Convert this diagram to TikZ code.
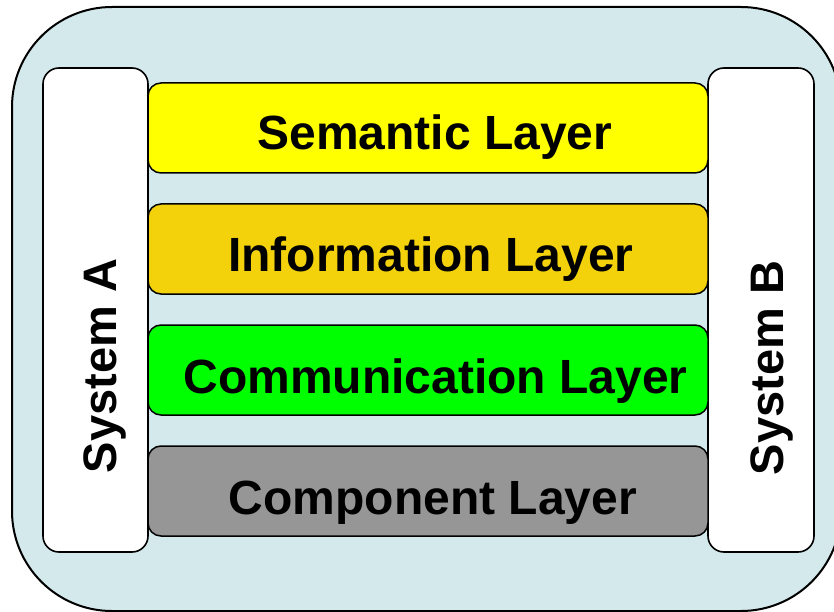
\documentclass[tikz,border=0pt]{standalone}
\usepackage{fontspec}
\setmainfont{Liberation Sans}
\definecolor{bgc}{HTML}{D3E9EB}
\definecolor{semc}{HTML}{FFFF00}
\definecolor{infc}{HTML}{F3D20C}
\definecolor{comc}{HTML}{00FF00}
\definecolor{cmpc}{HTML}{969696}
\tikzset{
  outerbox/.style={draw=black, line width=2pt, fill=bgc, rounded corners=100pt},
  sysbox/.style={draw=black, line width=1.6pt, fill=white, rounded corners=16pt},
  layerbox/.style={draw=black, line width=1.5pt, rounded corners=13pt},
  lbl/.style={font=\fontsize{48}{56}\selectfont\bfseries, inner sep=0pt, anchor=base},
  vlbl/.style={font=\fontsize{47}{56}\selectfont\bfseries, inner sep=0pt, anchor=base, rotate=90},
}
\begin{document}
\begin{tikzpicture}[x=1pt,y=-1pt]
\useasboundingbox (0,0) rectangle (834,612);
\draw[outerbox] (12,7) rectangle (841,611);
\draw[sysbox] (43,68) rectangle (148,552);
\draw[sysbox] (708,68) rectangle (814,552);
\draw[layerbox, fill=semc] (148,83) rectangle (708,173);
\draw[layerbox, fill=infc] (148,204) rectangle (708,294);
\draw[layerbox, fill=comc] (148,325) rectangle (708,415);
\draw[layerbox, fill=cmpc] (148,446) rectangle (708,536);
\node[lbl] (sem) at (435,150) {Semantic Layer};
\node[lbl] (inf) at (431,271) {Information Layer};
\node[lbl] (com) at (435.5,393) {Communication Layer};
\node[lbl] (cmp) at (433,514) {Component Layer};
\node[vlbl] (sa) at (116,366) {System A};
\node[vlbl] (sb) at (783,368) {System B};
\end{tikzpicture}
\end{document}
